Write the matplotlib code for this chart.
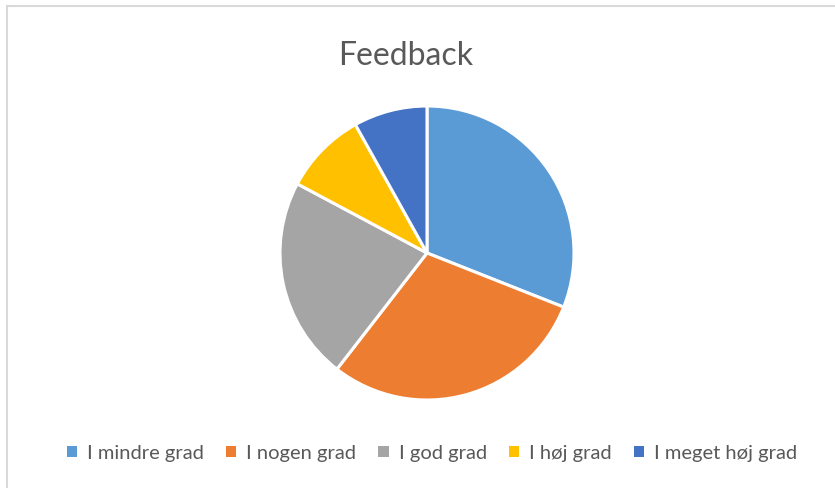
import matplotlib
matplotlib.use("Agg")
import matplotlib.pyplot as plt
from matplotlib.patches import Patch
from matplotlib.lines import Line2D

plt.rcParams['font.family'] = ['Lato', 'DejaVu Sans']

categories = ["I mindre grad", "I nogen grad", "I god grad", "I høj grad", "I meget høj grad"]
values = [31, 29.5, 22.3, 9.1, 8.1]
colors = ["#5B9BD5", "#ED7D31", "#A5A5A5", "#FFC000", "#4472C4"]
title = "Feedback"
text_color = "#595959"

W, H = 835, 488
fig = plt.figure(figsize=(W / 100, H / 100), dpi=100)
fig.patch.set_facecolor("white")

# chart frame (left and top visible)
fig.add_artist(Line2D([6.5 / W, 6.5 / W], [0, 1 - 5.5 / H], transform=fig.transFigure,
                      color="#D9D9D9", lw=1.5))
fig.add_artist(Line2D([6.5 / W, 1], [1 - 5.5 / H, 1 - 5.5 / H], transform=fig.transFigure,
                      color="#D9D9D9", lw=1.5))

cx, cy, r = 427, 253, 147
ax = fig.add_axes([(cx - r) / W, 1 - (cy + r) / H, 2 * r / W, 2 * r / H])
ax.pie(values, colors=colors, startangle=90, counterclock=False,
       wedgeprops=dict(edgecolor="white", linewidth=2.2))
ax.set_aspect("equal")
ax.set_xlim(-1, 1)
ax.set_ylim(-1, 1)
ax.axis("off")

fig.text(406 / W, 1 - 56 / H, title, ha="center", va="center", fontsize=23, color=text_color)

handles = [Patch(facecolor=c, edgecolor="none") for c in colors]
fig.legend(handles, categories, loc="center", bbox_to_anchor=(432 / W, 1 - 453 / H),
           ncol=5, frameon=False, fontsize=14.5, labelcolor=text_color,
           handlelength=0.5, handleheight=0.5, handletextpad=0.5, columnspacing=1.1)

fig.savefig("out.png", dpi=100, facecolor="white")
